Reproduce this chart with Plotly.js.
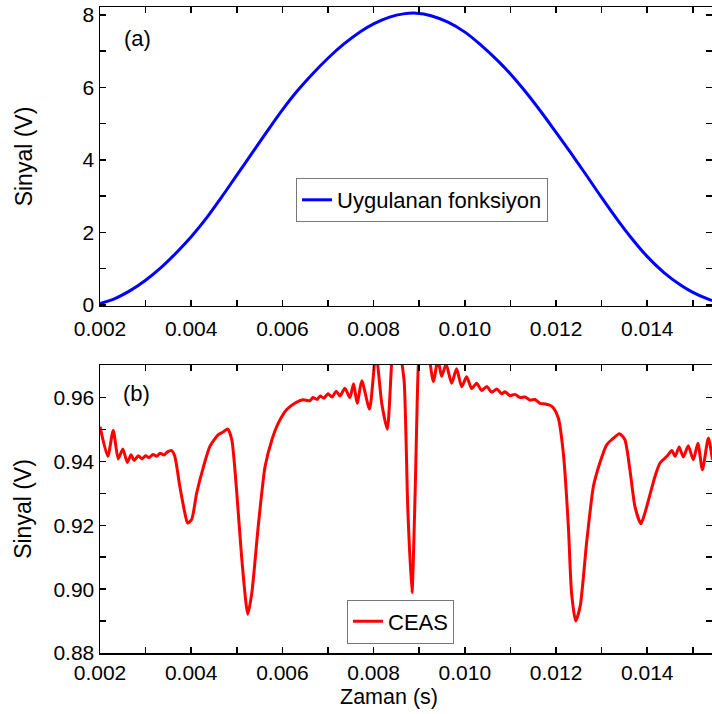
<!DOCTYPE html>
<html>
<head>
<meta charset="utf-8">
<script src="https://cdn.plot.ly/plotly-3.0.1.min.js"></script>
<style>html,body{margin:0;padding:0;background:#fff;}#chart{width:712px;height:714px;}</style>
</head>
<body>
<div id="chart"></div>
<script>
// Panel (a): applied function
const timeA = [0.0020, 0.0023, 0.00267, 0.0030, 0.00333, 0.00369, 0.0040, 0.00435, 0.00467, 0.0050, 0.00533, 0.00566, 0.0060, 0.00631, 0.00668, 0.00701, 0.00733, 0.0077, 0.00801, 0.00835, 0.00865, 0.00894, 0.00926, 0.00963, 0.01001, 0.01036, 0.01072, 0.01101, 0.0113, 0.01167, 0.012, 0.01232, 0.01262, 0.01299, 0.01334, 0.01363, 0.01398, 0.01436, 0.01473, 0.01498, 0.01535, 0.01542];
const signalA = [0.04, 0.16, 0.40, 0.68, 1.02, 1.46, 1.88, 2.42, 2.98, 3.58, 4.18, 4.78, 5.38, 5.88, 6.40, 6.82, 7.18, 7.53, 7.76, 7.94, 8.03, 8.05, 7.98, 7.80, 7.52, 7.16, 6.74, 6.36, 5.93, 5.33, 4.76, 4.20, 3.66, 2.98, 2.36, 1.88, 1.36, 0.90, 0.55, 0.36, 0.15, 0.12];

// Panel (b): CEAS signal
const timeB = [0.00200, 0.00217, 0.00229, 0.00240, 0.00250, 0.00260, 0.00268, 0.00275, 0.00284, 0.00292, 0.00300, 0.00308, 0.00316, 0.00324, 0.00332, 0.00340, 0.00348, 0.00357, 0.00364, 0.00375, 0.00386, 0.00392, 0.00401, 0.00412, 0.00427, 0.00441, 0.00459, 0.00470, 0.00480, 0.00489, 0.00500, 0.00511, 0.00524, 0.00533, 0.00547, 0.00562, 0.00577, 0.00591, 0.00609, 0.00628, 0.00645, 0.00660, 0.00667, 0.00676, 0.00683, 0.00691, 0.00700, 0.00709, 0.00718, 0.00726, 0.00737, 0.00748, 0.00756, 0.00764, 0.00774, 0.00791, 0.00805, 0.00818, 0.00830, 0.00840, 0.00849, 0.00858, 0.00867, 0.00875, 0.00884, 0.00891, 0.00898, 0.00906, 0.00917, 0.00931, 0.00941, 0.00949, 0.00959, 0.00971, 0.00982, 0.00993, 0.01004, 0.01015, 0.01026, 0.01037, 0.01048, 0.01059, 0.01070, 0.01081, 0.01088, 0.01099, 0.01110, 0.01121, 0.01132, 0.01143, 0.01154, 0.01165, 0.01176, 0.01187, 0.01194, 0.01205, 0.01216, 0.01227, 0.01234, 0.01243, 0.01253, 0.01267, 0.01282, 0.01296, 0.01311, 0.01322, 0.01339, 0.01351, 0.01362, 0.01373, 0.01386, 0.01395, 0.01406, 0.01417, 0.01428, 0.01443, 0.01454, 0.01461, 0.01470, 0.01479, 0.01490, 0.01501, 0.01511, 0.01521, 0.01534, 0.01543];
const signalB = [0.9509, 0.9416, 0.9497, 0.9408, 0.9439, 0.9397, 0.9421, 0.9403, 0.9418, 0.9408, 0.9418, 0.9412, 0.9422, 0.9416, 0.9426, 0.9420, 0.9430, 0.9434, 0.9416, 0.9322, 0.9239, 0.9207, 0.9218, 0.9301, 0.9384, 0.9447, 0.9483, 0.9492, 0.9502, 0.9468, 0.9301, 0.9093, 0.8921, 0.8989, 0.9197, 0.9384, 0.9468, 0.9520, 0.9562, 0.9583, 0.9593, 0.9590, 0.9600, 0.9594, 0.9605, 0.9598, 0.9612, 0.9602, 0.9620, 0.9605, 0.9629, 0.9600, 0.9643, 0.9582, 0.9653, 0.9564, 0.9740, 0.9580, 0.9501, 0.9720, 0.9850, 0.9750, 0.9650, 0.9250, 0.8989, 0.9300, 0.9700, 0.9850, 0.9780, 0.9650, 0.9720, 0.9666, 0.9705, 0.9645, 0.9690, 0.9634, 0.9665, 0.9628, 0.9645, 0.9622, 0.9635, 0.9617, 0.9627, 0.9612, 0.9618, 0.9606, 0.9610, 0.9600, 0.9602, 0.9592, 0.9594, 0.9582, 0.9580, 0.9576, 0.9568, 0.9536, 0.9426, 0.9197, 0.8989, 0.8900, 0.8947, 0.9145, 0.9322, 0.9395, 0.9452, 0.9468, 0.9487, 0.9468, 0.9374, 0.9259, 0.9205, 0.9239, 0.9296, 0.9353, 0.9395, 0.9416, 0.9434, 0.9416, 0.9445, 0.9414, 0.9449, 0.9405, 0.9457, 0.9374, 0.9473, 0.9405];

const xRange = [0.002, 0.01542];
const FONT = 'Liberation Sans, Arial, sans-serif';

const traces = [
  {x: timeA, y: signalA, type: 'scatter', mode: 'lines', name: 'Uygulanan fonksiyon',
   line: {color: '#0000ff', width: 3, shape: 'spline', smoothing: 1}, xaxis: 'x', yaxis: 'y', legend: 'legend'},
  {x: timeB, y: signalB, type: 'scatter', mode: 'lines', name: 'CEAS',
   line: {color: '#ff0000', width: 3, shape: 'spline', smoothing: 0.6}, xaxis: 'x2', yaxis: 'y2', legend: 'legend2'}
];

const axisCommon = {
  showgrid: false, zeroline: false, showline: true, linecolor: '#000', linewidth: 1.5,
  mirror: 'ticks', ticks: 'inside', ticklen: 6, tickwidth: 1.5, tickcolor: '#000',
  tickfont: {family: FONT, size: 21, color: '#000'}
};
const minorTicks = {ticks: 'inside', ticklen: 6, tickwidth: 1.5, tickcolor: '#000'};

const layout = {
  width: 712, height: 714,
  margin: {l: 100, r: 0, t: 7, b: 61},
  paper_bgcolor: '#fff', plot_bgcolor: '#fff',
  font: {family: FONT, size: 21, color: '#000'},
  xaxis: Object.assign({}, axisCommon, {domain: [0, 1], range: xRange, anchor: 'y', dtick: 0.002, tick0: 0.002, tickformat: '.3f',
    ticklabelstandoff: 3, minor: Object.assign({dtick: 0.001, tick0: 0.002}, minorTicks)}),
  yaxis: Object.assign({}, axisCommon, {domain: [0.5372, 1], range: [-0.03, 8.22], anchor: 'x', dtick: 2, tick0: 0,
    minor: Object.assign({dtick: 1}, minorTicks),
    title: {text: 'Sinyal (V)', font: {family: FONT, size: 23, color: '#000'}, standoff: 43}}),
  xaxis2: Object.assign({}, axisCommon, {domain: [0, 1], range: xRange, anchor: 'y2', dtick: 0.002, tick0: 0.002, tickformat: '.3f',
    minor: Object.assign({dtick: 0.001, tick0: 0.002}, minorTicks)}),
  yaxis2: Object.assign({}, axisCommon, {domain: [0, 0.4458], range: [0.88, 0.9702], anchor: 'x2', dtick: 0.02, tick0: 0.88, tickformat: '.2f',
    minor: Object.assign({dtick: 0.01}, minorTicks),
    title: {text: 'Sinyal (V)', font: {family: FONT, size: 23, color: '#000'}, standoff: 15}}),
  showlegend: true,
  legend: {x: 0.3203, y: (653 - 200) / 646, xanchor: 'left', yanchor: 'middle', xref: 'paper', yref: 'paper',
    bgcolor: '#fff', bordercolor: '#777', borderwidth: 1, font: {family: FONT, size: 22, color: '#000'}},
  legend2: {x: 0.4036, y: (653 - 621.5) / 646, xanchor: 'left', yanchor: 'middle', xref: 'paper', yref: 'paper',
    bgcolor: '#fff', bordercolor: '#777', borderwidth: 1, font: {family: FONT, size: 22, color: '#000'}},
  annotations: [
    {text: '(a)', xref: 'paper', yref: 'paper', x: (137 - 100) / 612, y: (653 - 38) / 646, xanchor: 'center', yanchor: 'middle', showarrow: false, font: {family: FONT, size: 22, color: '#000'}},
    {text: '(b)', xref: 'paper', yref: 'paper', x: (136 - 100) / 612, y: (653 - 393) / 646, xanchor: 'center', yanchor: 'middle', showarrow: false, font: {family: FONT, size: 22, color: '#000'}},
    {text: 'Zaman (s)', xref: 'paper', yref: 'paper', x: (389 - 100) / 612, y: (653 - 697) / 646, xanchor: 'center', yanchor: 'middle', showarrow: false, font: {family: FONT, size: 21.5, color: '#000'}}
  ]
};

Plotly.newPlot('chart', traces, layout, {staticPlot: true, displayModeBar: false});
</script>
</body>
</html>
